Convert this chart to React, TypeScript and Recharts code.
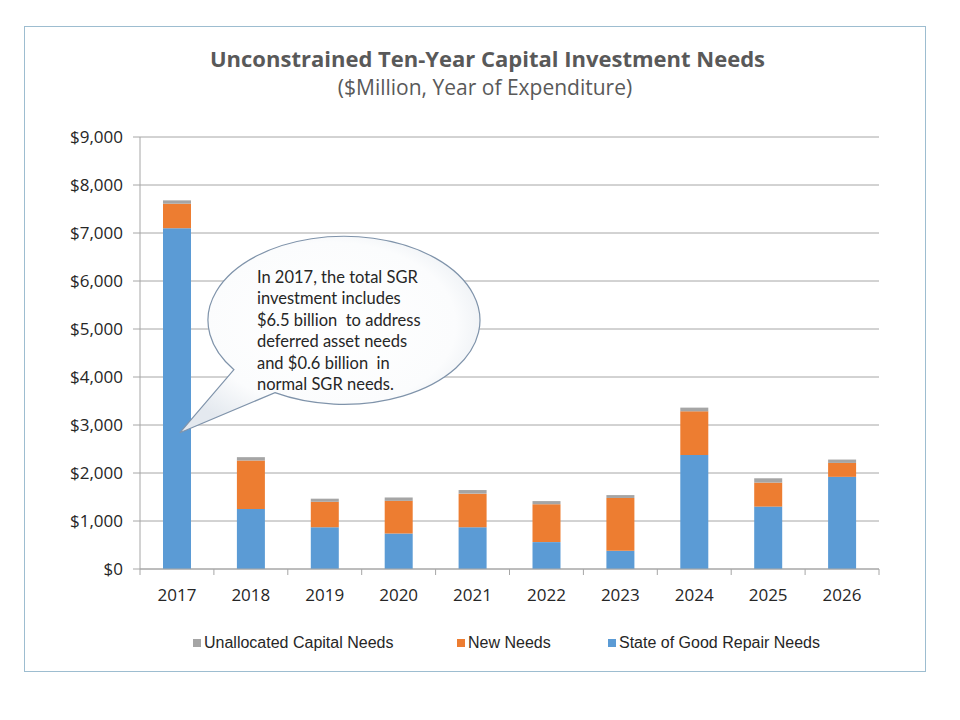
import React from "react";
import {
  BarChart,
  Bar,
  XAxis,
  YAxis,
  CartesianGrid,
  ReferenceDot,
} from "recharts";

const years = ["2017", "2018", "2019", "2020", "2021", "2022", "2023", "2024", "2025", "2026"];
const sgrNeeds = [7100, 1250, 870, 740, 870, 560, 380, 2375, 1300, 1920];
const newNeeds = [510, 1010, 530, 680, 700, 790, 1100, 910, 500, 290];
const unallocatedNeeds = [70, 70, 65, 70, 75, 65, 60, 77, 90, 70];
const yTicks = [0, 1000, 2000, 3000, 4000, 5000, 6000, 7000, 8000, 9000];

const calloutLines = [
  "In 2017, the total SGR",
  "investment includes",
  "$6.5 billion  to address",
  "deferred asset needs",
  "and $0.6 billion  in",
  "normal SGR needs.",
];
const calloutYear = "2017";
const calloutValue = 2840;

const legendItems = [
  { name: "Unallocated Capital Needs", color: "#a5a5a5" },
  { name: "New Needs", color: "#ed7d31" },
  { name: "State of Good Repair Needs", color: "#5b9bd5" },
];
const legendLefts = [193, 457, 608];

const data = years.map((year, i) => ({
  year,
  sgr: sgrNeeds[i],
  newNeeds: newNeeds[i],
  unallocated: unallocatedNeeds[i],
}));

const FONT = "'Open Sans', 'Liberation Sans', sans-serif";
const GRID = "#a6a6a6";

const XTick = (props: any) => {
  const { x, y, payload, index } = props;
  const half = payload && payload.offset ? payload.offset : 37;
  return (
    <g>
      <line x1={x - half} x2={x - half} y1={y} y2={y + 6} stroke={GRID} />
      {index === years.length - 1 && (
        <line x1={x + half} x2={x + half} y1={y} y2={y + 6} stroke={GRID} />
      )}
      <text x={x} y={y + 32} textAnchor="middle" fill="#262626" fontSize={17} fontFamily={FONT}>
        {payload.value}
      </text>
    </g>
  );
};

const Callout = (props: any) => {
  const { cx, cy } = props;
  const tx = cx + 3;
  const ty = cy;
  const rx = 136;
  const ry = 84;
  const b1 = [tx + 54, ty - 63];
  const b2 = [tx + 95, ty - 40];
  const d = `M ${b1[0]} ${b1[1]} A ${rx} ${ry} 0 1 1 ${b2[0]} ${b2[1]} L ${tx} ${ty} Z`;
  return (
    <g>
      <defs>
        <radialGradient id="calloutFill" cx="50%" cy="45%" r="60%">
          <stop offset="0%" stopColor="#ffffff" />
          <stop offset="70%" stopColor="#fbfcfd" />
          <stop offset="100%" stopColor="#e4e9ef" />
        </radialGradient>
      </defs>
      <path d={d} fill="url(#calloutFill)" stroke="#7f93aa" strokeWidth={1.2} />
      {calloutLines.map((line, i) => (
        <text
          key={i}
          x={tx + 77}
          y={ty - 150 + i * 21.5}
          fill="#262626"
          fontSize={16.5}
          fontFamily="Lato, 'Open Sans', sans-serif"
          style={{ whiteSpace: "pre" }}
        >
          {line}
        </text>
      ))}
    </g>
  );
};

export default function App() {
  return (
    <div
      style={{
        position: "absolute",
        left: 0,
        top: 0,
        width: 960,
        height: 720,
        background: "#fff",
        fontFamily: FONT,
      }}
    >
      <div
        style={{
          position: "absolute",
          left: 24,
          top: 26,
          width: 900,
          height: 644,
          border: "1px solid #9dbdd0",
        }}
      />
      <div
        style={{
          position: "absolute",
          left: 0,
          width: 975,
          top: 43,
          textAlign: "center",
          color: "#595959",
          fontSize: 22,
          fontWeight: 700,
          lineHeight: "30px",
        }}
      >
        Unconstrained Ten-Year Capital Investment Needs
      </div>
      <div
        style={{
          position: "absolute",
          left: 0,
          width: 970,
          top: 72,
          textAlign: "center",
          color: "#595959",
          fontSize: 21,
          lineHeight: "30px",
        }}
      >
        ($Million, Year of Expenditure)
      </div>
      <div style={{ position: "absolute", left: 0, top: 0 }}>
        <BarChart
          width={960}
          height={720}
          data={data}
          margin={{ top: 137, right: 81, left: 80, bottom: 121 }}
          barCategoryGap="31%"
        >
          <CartesianGrid vertical={false} stroke={GRID} />
          <XAxis
            dataKey="year"
            height={30}
            axisLine={{ stroke: GRID }}
            tickLine={false}
            tickSize={0}
            tickMargin={0}
            tick={<XTick />}
            interval={0}
          />
          <YAxis
            width={60}
            domain={[0, 9000]}
            ticks={yTicks}
            interval={0}
            axisLine={{ stroke: GRID }}
            tickLine={{ stroke: GRID }}
            tickSize={7}
            tickMargin={10}
            tick={{ fill: "#262626", fontSize: 17, fontFamily: FONT }}
            tickFormatter={(v: number) => `$${v.toLocaleString("en-US")}`}
          />
          <Bar dataKey="sgr" stackId="a" fill="#5b9bd5" barSize={28} isAnimationActive={false} />
          <Bar dataKey="newNeeds" stackId="a" fill="#ed7d31" barSize={28} isAnimationActive={false} />
          <Bar dataKey="unallocated" stackId="a" fill="#a5a5a5" barSize={28} isAnimationActive={false} />
          <ReferenceDot x={calloutYear} y={calloutValue} r={0} shape={<Callout />} />
        </BarChart>
      </div>
      {legendItems.map((item, i) => (
        <div
          key={item.name}
          style={{
            position: "absolute",
            left: legendLefts[i],
            top: 632,
            display: "flex",
            alignItems: "center",
            fontSize: 16,
            color: "#262626",
            fontFamily: "'Liberation Sans', sans-serif",
            lineHeight: "22px",
          }}
        >
          <span
            style={{
              display: "inline-block",
              width: 8,
              height: 8,
              background: item.color,
              marginRight: 3,
            }}
          />
          <span>{item.name}</span>
        </div>
      ))}
    </div>
  );
}
